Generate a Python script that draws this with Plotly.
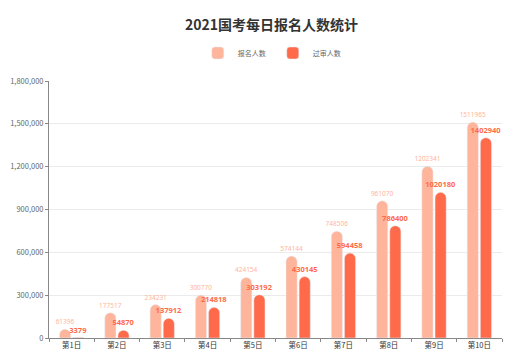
import plotly.graph_objects as go

categories = ["第1日", "第2日", "第3日", "第4日", "第5日", "第6日", "第7日", "第8日", "第9日", "第10日"]
signup = [61396, 177517, 234231, 300770, 424154, 574144, 748506, 961070, 1202341, 1511965]
approved = [3379, 54870, 137912, 214818, 303192, 430145, 594458, 786400, 1020180, 1402940]
series_names = ["报名人数", "过审人数"]
y_ticks = [0, 300000, 600000, 900000, 1200000, 1500000, 1800000]

FONT = "Noto Sans CJK SC, Noto Sans, sans-serif"
c1 = "#FFB59B"
c2 = "#FF6B4A"

fig = go.Figure()
fig.add_trace(go.Bar(
    x=categories, y=signup, name=series_names[0],
    marker=dict(color=c1, cornerradius="50%"),
    text=[str(v) for v in signup], textposition="outside", constraintext="none",
    textfont=dict(color=c1, size=6.5, family="Noto Sans, sans-serif"), cliponaxis=False,
))
fig.add_trace(go.Bar(
    x=categories, y=approved, name=series_names[1],
    marker=dict(color=c2, cornerradius="50%"),
    text=[str(v) for v in approved], textposition="outside", constraintext="none",
    textfont=dict(color=c2, size=7.5, family="Noto Sans, sans-serif", weight="bold"), cliponaxis=False,
))

fig.update_layout(
    width=527, height=360,
    margin=dict(l=41, r=33, t=73, b=30, autoexpand=False),
    paper_bgcolor="white", plot_bgcolor="white",
    font=dict(family=FONT, color="#666"),
    title=dict(text="<b>2021国考每日报名人数统计</b>", x=0.5, xanchor="center",
               yref="container", y=0.953, yanchor="middle",
               font=dict(size=14, color="#333", family=FONT)),
    legend=dict(orientation="h", x=0.494, xanchor="center", y=1.109, yanchor="middle",
                font=dict(size=7, color="#666"), traceorder="normal",
                itemwidth=30, entrywidth=30, entrywidthmode="pixels"),
    barmode="group", bargap=0.42, bargroupgap=0.15,
    showlegend=True,
)
fig.update_yaxes(
    range=[0, 1800000], tickvals=y_ticks, tickformat=",", ticks="outside", ticklen=3,
    tickcolor="#888", showline=True, linecolor="#888", linewidth=1,
    gridcolor="#ebebeb", zeroline=False, tickfont=dict(size=7.5, color="#666"),
)
fig.update_xaxes(
    showline=True, linecolor="#888", linewidth=1, ticks="outside", ticklen=3, tickcolor="#888",
    tickson="boundaries", tickfont=dict(size=7.5, color="#333"), showgrid=False,
)

fig.write_html("out.html")
